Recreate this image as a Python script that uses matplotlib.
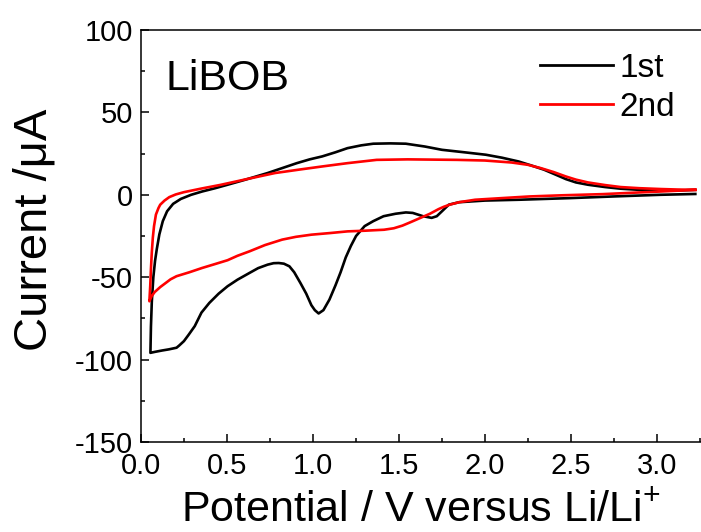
import matplotlib
matplotlib.use("Agg")
import matplotlib.pyplot as plt
from matplotlib.ticker import MultipleLocator, FormatStrFormatter

# ---------------------------
# CV data (V vs Li/Li+, current in uA)
# ---------------------------
# 1st cycle, cathodic scan (3.2 V -> 0.05 V)
v1_down = [3.225, 3.02, 2.75, 2.5, 2.2, 2.0, 1.85, 1.79, 1.75, 1.72, 1.69, 1.64, 1.58, 1.54,
           1.48, 1.41, 1.35, 1.30, 1.25, 1.22, 1.19, 1.16, 1.13, 1.095, 1.06, 1.032, 1.01, 0.99,
           0.96, 0.926, 0.89, 0.862, 0.83, 0.80, 0.77, 0.735, 0.68, 0.63, 0.56, 0.502, 0.45,
           0.396, 0.35, 0.311, 0.275, 0.248, 0.22, 0.205, 0.16, 0.12, 0.08, 0.053]
i1_down = [0.5, 0, -1, -2, -3, -3.5, -4.5, -6, -10, -13, -14, -13, -11, -10.7,
           -11.5, -13, -16, -19, -25, -31, -38, -47, -55, -63.6, -70, -72, -70, -67,
           -60, -53.5, -47, -43.4, -41.8, -41.4, -41.5, -42.4, -44.5, -47.4, -51.5, -55.5, -60,
           -65.6, -71.5, -79.7, -85, -88.8, -91.5, -92.8, -93.8, -94.5, -95.3, -95.9]
# 1st cycle, anodic scan (0.05 V -> 3.2 V)
v1_up = [0.053, 0.056, 0.061, 0.07, 0.08, 0.09, 0.105, 0.125, 0.15, 0.185, 0.23, 0.29, 0.354,
         0.43, 0.502, 0.6, 0.735, 0.82, 0.905, 0.98, 1.053, 1.13, 1.2, 1.28, 1.35, 1.45, 1.54,
         1.65, 1.75, 1.88, 2.006, 2.1, 2.197, 2.27, 2.345, 2.41, 2.472, 2.53, 2.6, 2.7, 2.79,
         2.9, 3.023, 3.12, 3.225]
i1_up = [-95.9, -80, -65, -50, -40, -33, -24, -16, -10, -5.5, -2.5, 0, 2,
         4, 6.1, 9, 13.2, 16.2, 19.2, 21.5, 23.3, 25.8, 28.3, 30, 31, 31.2, 31,
         29.3, 27.3, 25.8, 24.3, 22.5, 20.2, 17.8, 15.2, 12.3, 9.5, 7.5, 6.1, 4.7, 3.7,
         3, 2.6, 2.6, 3]

# 2nd cycle, cathodic scan
v2_down = [3.225, 3.023, 2.85, 2.684, 2.45, 2.26, 2.1, 1.943, 1.85, 1.795, 1.76, 1.73, 1.68,
           1.625, 1.57, 1.52, 1.47, 1.413, 1.3, 1.2, 1.1, 0.99, 0.9, 0.82, 0.72, 0.63, 0.56,
           0.502, 0.43, 0.354, 0.28, 0.205, 0.17, 0.142, 0.11, 0.078, 0.06, 0.047]
i2_down = [3, 2, 1.2, 0.4, -0.3, -1, -2, -3, -4.5, -6, -7.3, -8.7, -11.5,
           -14, -16.5, -18.7, -20.3, -21.2, -21.8, -22.2, -23.2, -24.2, -25.5, -27.2, -30.5, -34.3, -37,
           -39.7, -42, -44.4, -47, -49.4, -51.3, -53.5, -56, -59, -61.5, -64.6]
# 2nd cycle, anodic scan
v2_up = [0.047, 0.052, 0.056, 0.061, 0.067, 0.074, 0.085, 0.1, 0.11, 0.135, 0.163, 0.2, 0.248,
         0.35, 0.46, 0.6, 0.778, 0.92, 1.053, 1.2, 1.37, 1.55, 1.837, 2.0, 2.155, 2.25, 2.325,
         2.4, 2.472, 2.53, 2.6, 2.7, 2.79, 2.9, 3.023, 3.12, 3.225]
i2_up = [-64.6, -55, -45, -35, -26, -19, -12, -8, -6, -3.5, -1.4, 0.2, 1.6,
         3.8, 6, 9.2, 13.2, 15.3, 17.2, 19.2, 21.2, 21.5, 21.2, 20.8, 19.6, 18.2, 16.2,
         13.8, 11.1, 9.2, 7.5, 5.9, 4.7, 4, 3.5, 3.2, 3]

labels = ["1st", "2nd"]
colors = ["#000000", "#ff0000"]

# ---------------------------
# Fonts (Arial-like), plain hyphen minus like Origin
# ---------------------------
plt.rcParams['font.family'] = ['Liberation Sans', 'DejaVu Sans']
plt.rcParams['mathtext.fontset'] = 'custom'
plt.rcParams['mathtext.rm'] = 'Liberation Sans'
plt.rcParams['mathtext.default'] = 'regular'
plt.rcParams['axes.unicode_minus'] = False

fig = plt.figure(figsize=(7.01, 5.32), dpi=100)
ax = fig.add_axes([0.2016, 0.1692, 0.7984, 0.7744])

ax.plot(v1_down + v1_up, i1_down + i1_up, color=colors[0], lw=1.9, label=labels[0])
ax.plot(v2_down + v2_up, i2_down + i2_up, color=colors[1], lw=1.9, label=labels[1])

ax.set_xlim(0, 3.258)
ax.set_ylim(-150, 100)
ax.xaxis.set_major_locator(MultipleLocator(0.5))
ax.xaxis.set_minor_locator(MultipleLocator(0.25))
ax.yaxis.set_major_locator(MultipleLocator(50))
ax.yaxis.set_minor_locator(MultipleLocator(25))
ax.xaxis.set_major_formatter(FormatStrFormatter('%.1f'))

ax.tick_params(which='both', direction='in', top=False, right=False, width=1.1)
ax.tick_params(which='major', length=6, labelsize=21)
ax.tick_params(axis='y', which='major', pad=6)
ax.tick_params(axis='x', which='major', pad=7)
ax.tick_params(which='minor', length=3)
for side in ['left', 'bottom', 'top']:
    ax.spines[side].set_linewidth(1.1)
ax.spines['right'].set_visible(False)

ax.set_xlabel('Potential / V versus Li/Li$^{+}$', fontsize=31)
ax.set_ylabel('Current /\u03bcA', fontsize=34)
ax.xaxis.set_label_coords(0.5, -0.118)
ax.yaxis.set_label_coords(-0.152, 0.515)

ax.text(0.043, 0.855, 'LiBOB', transform=ax.transAxes, fontsize=31)

leg = ax.legend(loc='upper left', bbox_to_anchor=(0.712, 0.945), frameon=False,
                fontsize=24, handlelength=2.2, handletextpad=0.2, labelspacing=0.25,
                borderpad=0, borderaxespad=0)
for line in leg.get_lines():
    line.set_linewidth(2.0)

fig.savefig('out.png', dpi=100)
